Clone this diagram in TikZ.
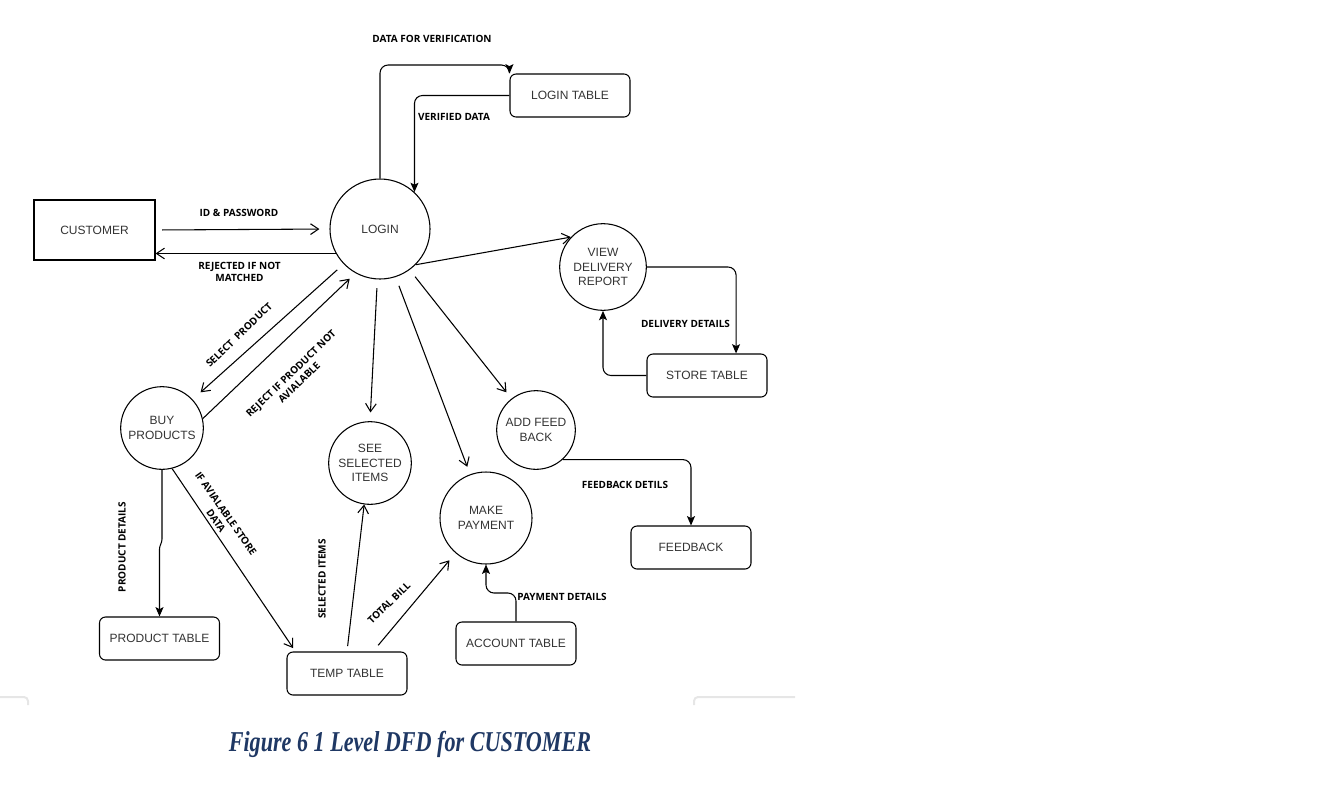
\documentclass[tikz,border=0pt]{standalone}
\usepackage{fontspec}
\setmainfont{Liberation Sans}
\newfontfamily\lblf{Open Sans}
\newfontfamily\capf{Liberation Serif}
\usetikzlibrary{arrows.meta,calc}
\definecolor{ntext}{RGB}{51,51,51}
\definecolor{capblue}{RGB}{31,56,100}
\definecolor{ghost}{RGB}{230,230,230}
\begin{document}
\begin{tikzpicture}[x=0.75pt,y=-0.75pt,
  proc/.style={circle,draw,line width=0.8pt,inner sep=0pt,align=center,text=ntext,font=\fontsize{9}{10.8}\selectfont},
  storebox/.style={rectangle,draw,line width=0.8pt,rounded corners=4.5pt,minimum width=90pt,minimum height=32.25pt,inner sep=0pt,text=ntext,font=\fontsize{9}{10.8}\selectfont},
  ent/.style={rectangle,draw,line width=0.8pt,minimum width=90.75pt,minimum height=45pt,inner sep=0pt,text=ntext,font=\fontsize{9}{10.8}\selectfont},
  flow/.style={draw,line width=0.8pt,-{Straight Barb[length=6pt,width=8pt,line width=0.8pt]}},
  dflow/.style={draw,line width=0.8pt,rounded corners=6pt,-{Stealth[length=7pt,width=6pt,inset=1.5pt]}},
  lbl/.style={inner sep=0pt,align=center,font=\lblf\bfseries\fontsize{7.5}{9}\selectfont}
]
\useasboundingbox (0,0) rectangle (1321,797);

% nodes
\node[ent] (customer) at (94.5,230) {CUSTOMER};
\node[proc,minimum size=75pt] (login) at (380,229) {LOGIN};
\node[storebox] (logintable) at (570,95.5) {LOGIN TABLE};
\node[proc,minimum size=65pt] (view) at (603,267) {VIEW\\DELIVERY\\REPORT};
\node[storebox] (store) at (707,375.5) {STORE TABLE};
\node[proc,minimum size=62pt] (buy) at (162,428) {BUY\\PRODUCTS};
\node[proc,minimum size=62pt] (see) at (370,463) {SEE\\SELECTED\\ITEMS};
\node[proc,minimum size=69pt] (make) at (486,518) {MAKE\\PAYMENT};
\node[proc,minimum size=59pt] (add) at (536,430) {ADD FEED\\BACK};
\node[storebox] (feedback) at (691,547.5) {FEEDBACK};
\node[storebox] (prodtable) at (159.5,638.5) {PRODUCT TABLE};
\node[storebox] (temp) at (347,673.5) {TEMP TABLE};
\node[storebox] (account) at (516,643.5) {ACCOUNT TABLE};

% connectors
\draw[flow,shorten <=5pt,shorten >=7.5pt] (customer.east) -- (login.west);
\draw[flow] (login.209) -- (login.209 -| customer.east);
\draw[dflow] (login.north) -- (login.north |- 0,65) -| (logintable.north west);
\draw[dflow] (logintable.west) -| (login.47);
\draw[flow] (login.-45) -- (view.137);
\draw[dflow] (view.east) -| ($(store.north)!0.48!(store.north east)$);
\draw[dflow] (store.west) -| (view.south);
\draw[flow,shorten <=6.5pt,shorten >=8pt] (login.224) -- (buy.43);
\draw[flow,shorten >=6pt] (buy.13) -- (login.241);
\draw[flow,shorten <=6.5pt,shorten >=6.5pt] (login.267) -- (see.north);
\draw[flow,shorten <=7pt,shorten >=6pt] (login.-72) -- (make.110);
\draw[flow,shorten <=6.5pt,shorten >=6pt] (login.-54) -- (add.128);
\draw[dflow] (add.-48) -| (feedback.north);
\draw[dflow] (account.north) -- (account.north |- 0,593) -| (make.south);
\draw[dflow,rounded corners=2pt] (buy.south) -- ($(buy.south)+(0,72)$) -- ($(prodtable.north)+(0,-70)$) -- (prodtable.north);
\draw[flow,shorten >=3pt] (buy.-76) -- ($(temp.north west)+(9,0)$);
\draw[flow,shorten <=4pt] (temp.north) -- (see.-98);
\draw[flow,shorten <=6pt,shorten >=7pt] ($(temp.north)+(26,0)$) -- (make.229);

% labels
\node[lbl] (l1) at (432,39) {DATA FOR VERIFICATION};
\node[lbl] (l2) at (454,117) {VERIFIED DATA};
\node[lbl] (l3) at (239,213) {ID \& PASSWORD};
\node[lbl] (l4) at (239.5,272) {REJECTED IF NOT\\MATCHED};
\node[lbl,rotate=44] (l5) at (239,335) {SELECT\enspace PRODUCT};
\node[lbl,rotate=44] (l6) at (295,378) {REJECT IF PRODUCT NOT\\AVIALABLE};
\node[lbl,rotate=90] (l7) at (122,547) {PRODUCT DETAILS};
\node[lbl,rotate=-55] (l8) at (221,517) {IF AVIALABLE STORE\\DATA};
\node[lbl,rotate=90] (l9) at (322,579) {SELECTED ITEMS};
\node[lbl,rotate=44] (l10) at (389,603) {TOTAL BILL};
\node[lbl] (l11) at (685.5,324) {DELIVERY DETAILS};
\node[lbl] (l12) at (625,485) {FEEDBACK DETILS};
\node[lbl] (l13) at (562,597) {PAYMENT DETAILS};

% page remnants
\draw[ghost,line width=1.5pt,rounded corners=3pt] (0,697) -- (28,697) -- (28,705);
\draw[ghost,line width=1.5pt,rounded corners=3pt] (694,705) -- (694,697) -- (795,697);

% caption
\node[text=capblue,inner sep=0pt,yscale=1.3,font=\capf\bfseries\itshape\fontsize{16.6}{20}\selectfont] (cap) at (410,744) {Figure 6 1 Level DFD for CUSTOMER};
\end{tikzpicture}
\end{document}
